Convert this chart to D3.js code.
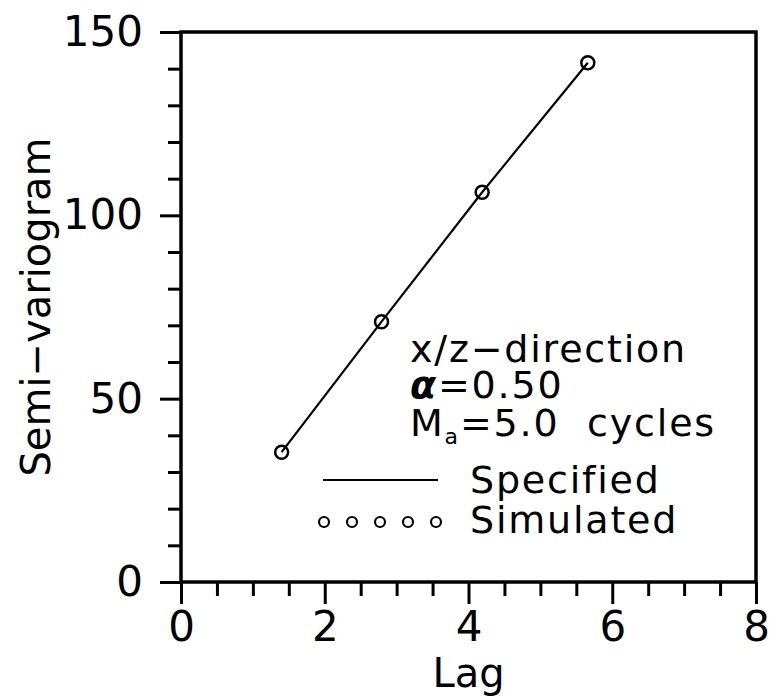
<!DOCTYPE html>
<html>
<head>
<meta charset="utf-8">
<script src="https://cdn.jsdelivr.net/npm/d3@7"></script>
<style>
  body { margin: 0; background: #fff; }
  text { font-family: "DejaVu Sans", sans-serif; fill: #000; }
</style>
</head>
<body>
<div class="chart"></div>
<script>
// Semi-variogram vs lag, specified line and simulated points

var lags = [1.40, 2.79, 4.19, 5.66];
var gammas = [35.4, 71.0, 106.3, 141.6];
var xMajor = [0, 2, 4, 6, 8];
var yMajor = [0, 50, 100, 150];
var infoTitle = "x/z\u2212direction";
var alphaText = "=0.50";
var maText = "=5.0\u00a0 cycles";
var legendLabels = ["Specified", "Simulated"];

var W = 773, H = 697;
var mL = 181, mR = 756, mT = 32, mB = 582;

var svg = d3.select(".chart").append("svg")
    .attr("width", W)
    .attr("height", H);

var x = d3.scaleLinear().domain([0, 8]).range([mL, mR]);
var y = d3.scaleLinear().domain([0, 150]).range([mB, mT]);

// minor ticks
var xMinor = d3.range(0, 8.01, 0.5).filter(function(d) { return xMajor.indexOf(d) < 0; });
var yMinor = d3.range(0, 150.1, 10).filter(function(d) { return yMajor.indexOf(d) < 0; });

function styleAxis(g) {
  g.select(".domain").remove();
  g.selectAll("line").attr("stroke", "#000").attr("stroke-width", 3);
  g.selectAll("text").attr("font-family", "DejaVu Sans").style("font-size", "42px");
}

svg.append("g").attr("transform", "translate(0," + mB + ")")
    .call(d3.axisBottom(x).tickValues(xMinor).tickSize(14).tickFormat(""))
    .call(styleAxis);
svg.append("g").attr("transform", "translate(0," + mB + ")")
    .call(d3.axisBottom(x).tickValues(xMajor).tickSize(22).tickPadding(7).tickFormat(d3.format("d")))
    .call(styleAxis);

svg.append("g").attr("transform", "translate(" + mL + ",0)")
    .call(d3.axisLeft(y).tickValues(yMinor).tickSize(13).tickFormat(""))
    .call(styleAxis);
svg.append("g").attr("transform", "translate(" + mL + ",0)")
    .call(d3.axisLeft(y).tickValues(yMajor).tickSize(21).tickPadding(17).tickFormat(d3.format("d")))
    .call(styleAxis);

// frame
svg.append("rect")
    .attr("x", mL).attr("y", mT)
    .attr("width", mR - mL).attr("height", mB - mT)
    .attr("fill", "none").attr("stroke", "#000").attr("stroke-width", 3.5);

// axis titles
svg.append("text")
    .attr("x", x(4)).attr("y", 687)
    .attr("text-anchor", "middle")
    .style("font-size", "40px")
    .text("Lag");

svg.append("text")
    .attr("transform", "translate(50," + y(75) + ") rotate(-90)")
    .attr("text-anchor", "middle")
    .style("font-size", "40px")
    .text("Semi\u2212variogram");

// specified line
var pts = lags.map(function(d, i) { return [d, gammas[i]]; });
svg.append("path")
    .datum(pts)
    .attr("d", d3.line().x(function(d) { return x(d[0]); }).y(function(d) { return y(d[1]); }))
    .attr("fill", "none").attr("stroke", "#000").attr("stroke-width", 2.2);

// simulated points
svg.selectAll("circle.pt")
    .data(pts)
    .enter().append("circle")
    .attr("class", "pt")
    .attr("cx", function(d) { return x(d[0]); })
    .attr("cy", function(d) { return y(d[1]); })
    .attr("r", 6.5)
    .attr("fill", "none").attr("stroke", "#000").attr("stroke-width", 2.5);

// annotation
var tx = 410, fs = "38px", ls = "1.8px";
svg.append("text").attr("x", tx).attr("y", 362)
    .style("font-size", fs).style("letter-spacing", ls)
    .text(infoTitle);

var al = svg.append("text").attr("x", tx).attr("y", 398)
    .style("font-size", fs).style("letter-spacing", ls);
al.append("tspan").style("font-style", "italic").style("font-weight", "bold").text("\u03b1");
al.append("tspan").text(alphaText);

var ma = svg.append("text").attr("x", tx).attr("y", 436)
    .style("font-size", fs).style("letter-spacing", ls);
ma.append("tspan").text("M");
ma.append("tspan").attr("dy", 8).style("font-size", "22px").text("a");
ma.append("tspan").attr("dy", -8).text(maText);

// legend
svg.append("line")
    .attr("x1", 323).attr("x2", 438).attr("y1", 480).attr("y2", 480)
    .attr("stroke", "#000").attr("stroke-width", 2);

svg.selectAll("circle.leg")
    .data(d3.range(5))
    .enter().append("circle")
    .attr("class", "leg")
    .attr("cx", function(d) { return 324 + d * 28; })
    .attr("cy", 522)
    .attr("r", 5)
    .attr("fill", "none").attr("stroke", "#000").attr("stroke-width", 2.2);

svg.selectAll("text.leg")
    .data(legendLabels)
    .enter().append("text")
    .attr("class", "leg")
    .attr("x", 470)
    .attr("y", function(d, i) { return 493 + i * 40; })
    .style("font-size", fs).style("letter-spacing", ls)
    .text(function(d) { return d; });
</script>
</body>
</html>
